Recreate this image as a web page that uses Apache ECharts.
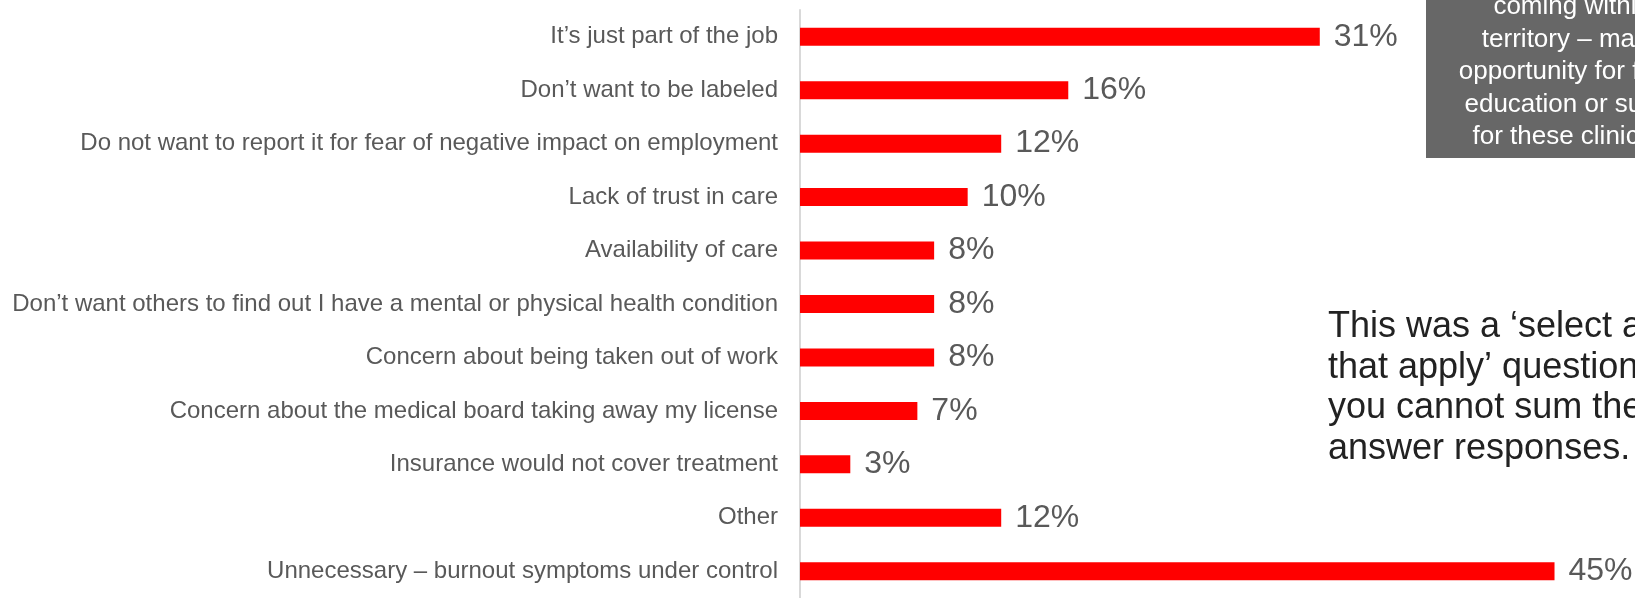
<!DOCTYPE html>
<html>
<head>
<meta charset="utf-8">
<script src="https://cdn.jsdelivr.net/npm/echarts@6/dist/echarts.min.js"></script>
<style>
  html, body { margin: 0; padding: 0; background: #ffffff; }
  #chart { width: 1635px; height: 598px; }
</style>
</head>
<body>
<div id="chart"></div>
<script>
// Reasons for not seeking help (top to bottom)
const categories = [
  "It\u2019s just part of the job",
  "Don\u2019t want to be labeled",
  "Do not want to report it for fear of negative impact on employment",
  "Lack of trust in care",
  "Availability of care",
  "Don\u2019t want others to find out I have a mental or physical health condition",
  "Concern about being taken out of work",
  "Concern about the medical board taking away my license",
  "Insurance would not cover treatment",
  "Other",
  "Unnecessary \u2013 burnout symptoms under control"
];
// Share of respondents, percent
const values = [31, 16, 12, 10, 8, 8, 8, 7, 3, 12, 45];

const noteLines = [
  "This was a \u2018select all",
  "that apply\u2019 question, so",
  "you cannot sum the",
  "answer responses."
];
const calloutLines = [
  "coming within a",
  "territory \u2013 may be",
  "opportunity for further",
  "education or support",
  "for these clinicians."
];

const FONT = "Liberation Sans, Arial, sans-serif";
const chart = echarts.init(document.getElementById("chart"), null, { renderer: "canvas" });

chart.setOption({
  animation: false,
  backgroundColor: "#ffffff",
  // plot area runs slightly past the bottom edge so the last row sits low
  grid: { left: 800, right: 0, top: 10, height: 596, containLabel: false },
  xAxis: {
    type: "value",
    min: 0,
    max: 49.8,
    show: false
  },
  yAxis: {
    type: "category",
    inverse: true,
    data: categories,
    axisLine: { show: true, lineStyle: { color: "#d9d9d9", width: 2 } },
    axisTick: { show: false },
    axisLabel: {
      margin: 22,
      color: "#595959",
      fontSize: 24,
      fontFamily: FONT
    }
  },
  series: [{
    type: "bar",
    data: values,
    barWidth: 18,
    itemStyle: { color: "#ff0000" },
    label: {
      show: true,
      position: "right",
      distance: 14,
      formatter: "{c}%",
      color: "#595959",
      fontSize: 32,
      fontFamily: FONT
    }
  }],
  graphic: [
    {
      type: "rect",
      left: 1426,
      top: -10,
      shape: { width: 260, height: 168 },
      style: { fill: "#676767" },
      z: 10
    },
    {
      type: "text",
      x: 1583,
      y: -9,
      z: 11,
      style: {
        text: calloutLines.join("\n"),
        fill: "#ffffff",
        font: "26px " + FONT,
        textAlign: "center",
        textVerticalAlign: "top",
        lineHeight: 32.5
      }
    },
    {
      type: "text",
      x: 1328,
      y: 307,
      z: 11,
      style: {
        text: noteLines.join("\n"),
        fill: "#222222",
        font: "36px " + FONT,
        textAlign: "left",
        textVerticalAlign: "top",
        lineHeight: 40.5
      }
    }
  ]
});
</script>
</body>
</html>
